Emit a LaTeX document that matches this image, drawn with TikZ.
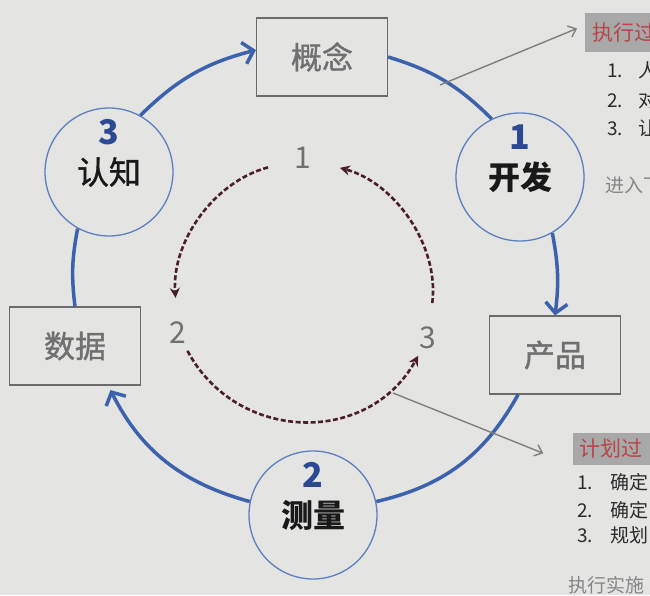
\documentclass[tikz,border=0pt]{standalone}
\usepackage{fontspec}
\setmainfont{Noto Sans CJK SC}
\newfontfamily\semibold[FakeBold=1.2]{Noto Sans CJK SC}
\usetikzlibrary{arrows.meta}

\definecolor{paper}{HTML}{E4E4E2}
\definecolor{ringblue}{HTML}{3C62AD}
\definecolor{rimblue}{HTML}{5B7FC0}
\definecolor{numblue}{HTML}{2C4A94}
\definecolor{boxgrey}{HTML}{6B6B6B}
\definecolor{labelgrey}{HTML}{707070}
\definecolor{maroon}{HTML}{4A1F2A}
\definecolor{arrowgrey}{HTML}{7F7F7F}
\definecolor{headgrey}{HTML}{A8A8A8}
\definecolor{headred}{HTML}{B8454A}
\definecolor{itemdark}{HTML}{2B2B2B}
\definecolor{notegrey}{HTML}{858585}

\tikzstyle{box}=[draw=boxgrey,line width=1.2pt,minimum width=131pt,minimum height=78pt,text=labelgrey,font=\fontsize{31}{36}\semibold]
\tikzstyle{stage}=[circle,draw=rimblue,line width=1.3pt,minimum size=128pt,inner sep=0pt,text=black!90,font=\fontsize{32}{38}\selectfont\bfseries]
\tikzstyle{stage num}=[text=numblue,font=\fontsize{34}{40}\selectfont\bfseries,yshift=40pt]
\tikzstyle{count label}=[circle,minimum size=40pt,inner sep=0pt,text=labelgrey,font=\fontsize{30}{36}\selectfont]
\tikzstyle{ring}=[draw,line width=3.5pt,ringblue]
\tikzstyle{ring arrow}=[ring,-{Straight Barb[length=10pt,width=22pt]}]
\tikzstyle{back arrow}=[draw,line width=2.6pt,maroon,dash pattern=on 5pt off 2.5pt,-{Stealth[length=10pt,width=10pt]}]
\tikzstyle{pointer}=[draw,line width=1.4pt,arrowgrey,-{Straight Barb[length=7pt,width=12pt]}]
\tikzstyle{callout}=[fill=headgrey,text=headred,anchor=west,text width=90pt,align=left,inner ysep=0pt,font=\fontsize{21}{24}\selectfont]
\tikzstyle{item}=[anchor=west,inner sep=0pt,text=itemdark,font=\fontsize{19}{22}\selectfont]

\begin{document}
\begin{tikzpicture}[x=1pt,y=1pt]
    \useasboundingbox (0,0) rectangle (650,595);
    \clip (0,0) rectangle (650,595);
    \fill[paper] (0,0) rectangle (650,595);

    \foreach \pos/\name/\txt in {{(322,538)/concept/概念}, {(555,240)/product/产品}, {(75,249)/data/数据}}
        \node[box] (\name) at \pos {\txt};
    \foreach \pos/\name/\num/\txt in {{(520,418)/develop/1/开发}, {(313,80)/measure/2/测量}, {(109,423)/learn/3/\mdseries\semibold 认知}}
        \node[stage,label={[stage num]center:\num}] (\name) at \pos {\txt};
    \foreach \pos/\name in {{(303,437)/1}, {(178,262)/2}, {(428,257)/3}}
        \node[count label] (n\name) at \pos {\name};

    \path[ring] (concept.east) to[bend left=14] (develop.116);
    \path[ring arrow] (develop.-60) to[bend left=9] (product.north);
    \path[ring] (product.227) to[bend left=24] (measure.12);
    \path[ring arrow,shorten >=5pt] (measure.168) to[bend left=24] (data.-50);
    \path[ring] (data.north) to[bend left=9] (learn.241);
    \path[ring arrow] (learn.61) to[bend left=15] (concept.174);

    \path[back arrow,shorten <=16pt,shorten >=15pt] (n1) to[out=195,in=94] (n2);
    \path[back arrow,looseness=1.15] (n2) to[out=-62,in=-119] (n3);
    \path[back arrow,shorten <=15pt,shorten >=18pt] (n3) to[out=83,in=-15] (n1);

    % callouts on the right
    \node[callout,minimum height=39pt,inner xsep=7pt] (exec) at (585,562.5) {执行过};
    \node[item] at (607,525) {\makebox[31pt][l]{1.}人};
    \node[item] at (607,495) {\makebox[31pt][l]{2.}对};
    \node[item] at (607,467) {\makebox[31pt][l]{3.}让};
    \node[item,text=notegrey] at (605,410) {进入下};

    \node[callout,minimum height=32pt,inner xsep=6pt] (plan) at (573,146) {计划过};
    \node[item] at (577,113) {\makebox[33pt][l]{1.}确定};
    \node[item] at (577,85) {\makebox[33pt][l]{2.}确定};
    \node[item] at (577,60) {\makebox[33pt][l]{3.}规划};
    \node[item,text=notegrey] at (568,10) {执行实施};

    \coordinate (p1) at (440,510);
    \coordinate (p2) at (393,202);
    \path[pointer,shorten >=8.6pt] (p1) -- (exec.172);
    \path[pointer,shorten >=32pt] (p2) -- (plan.south west);
\end{tikzpicture}
\end{document}
